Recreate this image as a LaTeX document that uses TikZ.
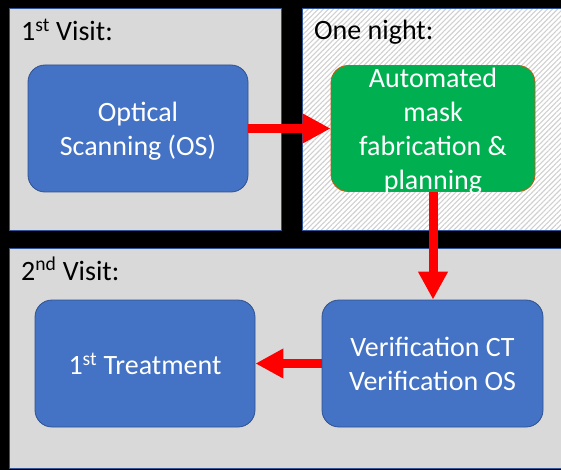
\documentclass[tikz,border=0pt]{standalone}
\usepackage{fontspec}
\setmainfont{Carlito}
\usetikzlibrary{arrows.meta,patterns.meta}
\definecolor{panelgray}{HTML}{D9D9D9}
\definecolor{panelblue}{HTML}{2F5597}
\definecolor{boxblue}{HTML}{4472C4}
\definecolor{boxedge}{HTML}{2F528F}
\definecolor{boxgreen}{HTML}{00B050}
\definecolor{greenedge}{HTML}{C55A11}
\definecolor{hatchgray}{HTML}{D0D0D0}
\definecolor{arrowred}{HTML}{FF0000}
\tikzset{
  panel/.style={draw=panelblue, line width=1pt},
  graypanel/.style={panel, fill=panelgray},
  hatchpanel/.style={panel, fill=white, pattern={Lines[angle=45,distance=3.6pt,line width=1.1pt]}, pattern color=hatchgray},
  bigtext/.style={font=\fontsize{28}{34}\selectfont},
  label/.style={bigtext, anchor=base west, text=black, inner sep=0pt},
  stepbox/.style={rectangle, rounded corners=17pt, draw=boxedge, line width=0.8pt, fill=boxblue,
    text=white, bigtext, align=center, inner sep=0pt},
  greenbox/.style={stepbox, draw=greenedge, fill=boxgreen},
  flow/.style={arrowred, line width=9pt, -{Triangle[length=28pt,width=28pt]}}
}
\begin{document}
\begin{tikzpicture}[x=1pt,y=-1pt]
\useasboundingbox (0,0) rectangle (561,470);
\fill[black] (0,0) rectangle (561,470);
% panels
\draw[graypanel] (9,9) rectangle (281,230);
\fill[white] (302,9) rectangle (566,230);
\draw[hatchpanel] (302,9) rectangle (566,230);
\draw[graypanel] (9,248) rectangle (566,468);
% panel labels
\node[label] (l1) at (21,41) {1\textsuperscript{st} Visit:};
\node[label] (l2) at (314,40) {One night:};
\node[label] (l3) at (21,280) {2\textsuperscript{nd} Visit:};
% boxes
\node[stepbox, text depth=0pt, minimum width=220pt, minimum height=127pt] (os) at (138,128.5) {Optical\\Scanning (OS)};
\node[greenbox, text depth=0pt, minimum width=204pt, minimum height=126pt] (fab) at (433,128.5) {Automated\\mask\\fabrication \&\\planning};
\node[stepbox, minimum width=220pt, minimum height=127pt] (trt) at (145,363.5) {1\textsuperscript{st} Treatment};
\node[stepbox, minimum width=221pt, minimum height=127pt] (ver) at (432.5,363.5) {Verification CT\\Verification OS};
% arrows
\draw[flow] (os.east) -- (fab.west);
\draw[flow] (fab.south) -- (fab.south |- ver.north);
\draw[flow] (ver.west) -- (trt.east);
\end{tikzpicture}
\end{document}
